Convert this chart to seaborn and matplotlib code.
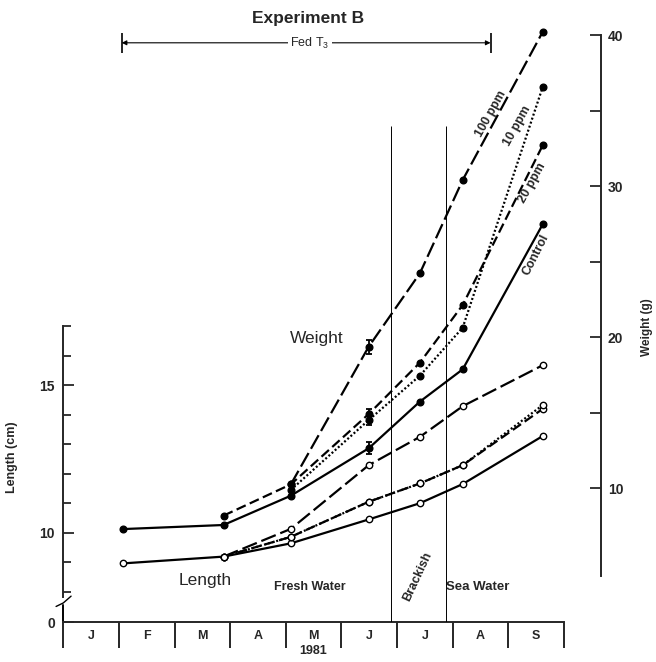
import matplotlib
matplotlib.use("Agg")
import matplotlib.pyplot as plt
import seaborn as sns

# sampling dates, in months from 1 Jan 1981
sample_dates = [1.07, 2.88, 4.09, 5.49, 6.41, 7.18, 8.62]
month_labels = ["J", "F", "M", "A", "M", "J", "J", "A", "S"]

# weight (g), right axis
w_control = [7.30, 7.57, 9.51, 12.65, 15.74, 17.88, 27.50]
w_20ppm = [8.19, 10.26, 14.92, 18.32, 22.14, 32.73]
w_10ppm = [9.89, 14.52, 17.46, 20.64, 36.60]
w_100ppm = [10.26, 19.38, 24.24, 30.42, 40.24]
err_means = [12.65, 14.72, 19.38]
err_sd = [0.40, 0.55, 0.47]

# length (cm), left axis
l_control = [8.96, 9.19, 9.64, 10.45, 11.00, 11.65, 13.28]
l_20ppm = [9.19, 9.86, 11.05, 11.67, 12.29, 14.20]
l_10ppm = [9.19, 9.86, 11.05, 11.67, 12.29, 14.33]
l_100ppm = [9.19, 10.13, 12.29, 13.25, 14.29, 15.68]

brackish = [5.89, 6.88]
fed_t3 = [1.05, 7.68]

sns.set_style("ticks")
plt.rcParams["font.family"] = ["Liberation Sans", "DejaVu Sans"]

fig = plt.figure(figsize=(6.56, 6.62), dpi=100)
ax = fig.add_axes([0.0965, 0.0604, 0.8197, 0.8973])
ax2 = ax.twinx()

L_BOT = 6.973
ax.set_xlim(0, 9.666)
ax.set_ylim(L_BOT, 27.11)
ax2.set_ylim(1.146, 40.48)

styles = {
    "control": "-",
    "20": (0, (4.5, 2.0)),
    "10": (0, (0.9, 1.0)),
    "100": (0, (7.0, 2.2)),
}

def line(axis, xs, ys, ls, filled):
    sns.lineplot(x=xs, y=ys, ax=axis, color="black", lw=1.6, linestyle=ls,
                 marker="o", markersize=4.8 if filled else 4.6,
                 markerfacecolor="black" if filled else "white",
                 markeredgecolor="black", markeredgewidth=1.0,
                 clip_on=False, zorder=3)

# weight
line(ax2, sample_dates, w_control, styles["control"], True)
line(ax2, sample_dates[1:], w_20ppm, styles["20"], True)
line(ax2, sample_dates[2:], w_10ppm, styles["10"], True)
line(ax2, sample_dates[2:], w_100ppm, styles["100"], True)
ax2.errorbar([sample_dates[3]] * 3, err_means, yerr=err_sd, fmt="none",
             ecolor="black", elinewidth=1.3, capsize=2.5, capthick=1.3, zorder=4)

# length
line(ax, sample_dates, l_control, styles["control"], False)
line(ax, sample_dates[1:], l_20ppm, styles["20"], False)
line(ax, sample_dates[1:], l_10ppm, styles["10"], False)
line(ax, sample_dates[1:], l_100ppm, styles["100"], False)

# brackish water period
ax2.vlines(brackish, 1.146, 34.0, color="black", lw=0.7, zorder=1)

# Fed T3 bar
ax2.annotate("", xy=(fed_t3[0], 39.5), xytext=(fed_t3[1], 39.5),
             arrowprops=dict(arrowstyle="<|-|>", color="black", lw=0.8,
                             mutation_scale=7, shrinkA=0, shrinkB=0),
             annotation_clip=False)
ax2.vlines(fed_t3, 38.85, 40.15, color="black", lw=1.2, clip_on=False)

# spines and ticks
for s in ["top", "right"]:
    ax.spines[s].set_visible(False)
for s in ["top", "left", "bottom"]:
    ax2.spines[s].set_visible(False)
ax.spines["left"].set_bounds(7.82, 17)
ax.spines["bottom"].set_bounds(0, 9)
ax2.spines["right"].set_bounds(4.2, 40)
for sp in [ax.spines["left"], ax.spines["bottom"], ax2.spines["right"]]:
    sp.set_linewidth(1.4)

ax.plot([0, 0], [L_BOT, 7.55], color="black", lw=1.4, clip_on=False)
ax.plot([-0.13, 0.0, 0.14], [7.5, 7.62, 7.85], color="black", lw=1.0, clip_on=False)

ax.set_yticks([L_BOT, 10, 15])
ax.set_yticklabels(["0", "10", "15"])
ax.set_yticks([8, 9, 11, 12, 13, 14, 16, 17], minor=True)
ax.tick_params(axis="y", which="major", direction="in", length=8, width=1.3,
               labelsize=10, pad=6)
ax.tick_params(axis="y", which="minor", direction="in", length=6, width=1.3)

ax2.set_yticks([10, 20, 30, 40])
ax2.set_yticks([15, 25, 35], minor=True)
ax2.tick_params(axis="y", which="both", direction="in", length=8, width=1.3,
                labelsize=10, pad=5)

ax.set_xticks(range(10))
ax.set_xticklabels([])
ax.set_xticks([i + 0.5 for i in range(9)], minor=True)
ax.set_xticklabels(month_labels, minor=True)
ax.tick_params(axis="x", which="major", direction="out", length=19, width=1.4)
ax.tick_params(axis="x", which="minor", length=0, labelsize=9, pad=6)
for lab in ax.get_yticklabels() + ax2.get_yticklabels() + ax.get_xticklabels(minor=True):
    lab.set_fontweight("bold")

ax.set_ylabel("Length (cm)", fontsize=9, fontweight="bold")
ax.yaxis.set_label_coords(-0.084, 0.278)
ax2.set_ylabel("Weight (g)", fontsize=8.5, fontweight="bold")
ax2.yaxis.set_label_coords(1.074, 0.497)


def px(x, y):
    return x / 656, 1 - y / 662


fig.text(*px(308, 18), "Experiment B", ha="center", va="center",
         fontsize=12.5, fontweight="bold")
fig.text(*px(310, 43), r"Fed T$_{\mathregular{3}}$", ha="center", va="center",
         fontsize=9, bbox=dict(facecolor="white", edgecolor="none", pad=1.5))
fig.text(*px(491, 114), "100 ppm", ha="center", va="center", rotation=61,
         fontsize=9, fontweight="bold")
fig.text(*px(517, 126), "10 ppm", ha="center", va="center", rotation=61,
         fontsize=9, fontweight="bold")
fig.text(*px(532, 183), "20 ppm", ha="center", va="center", rotation=61,
         fontsize=9, fontweight="bold")
fig.text(*px(536, 255), "Control", ha="center", va="center", rotation=63,
         fontsize=9, fontweight="bold")
fig.text(*px(317, 338), "Weight", ha="center", va="center", fontsize=12.5)
fig.text(*px(205, 581), "Length", ha="center", va="center", fontsize=12.5)
fig.text(*px(310, 587), "Fresh Water", ha="center", va="center",
         fontsize=9, fontweight="bold")
fig.text(*px(478, 587), "Sea Water", ha="center", va="center",
         fontsize=9.5, fontweight="bold")
fig.text(*px(418, 577), "Brackish", ha="center", va="center", rotation=65,
         fontsize=9, fontweight="bold")
fig.text(*px(313, 651), "1981", ha="center", va="center",
         fontsize=9, fontweight="bold")

fig.savefig("out.png", dpi=100)
